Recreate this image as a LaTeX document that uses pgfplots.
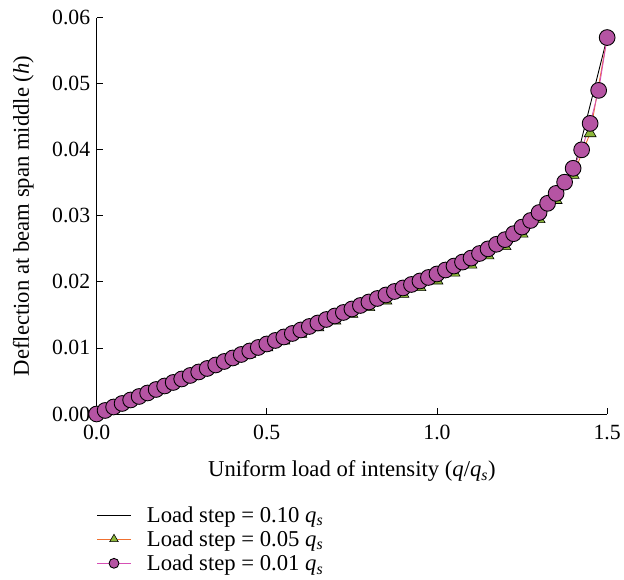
\documentclass[border=0pt]{standalone}
\usepackage{pgfplots}
\pgfplotsset{compat=1.18}
\usepackage{fontspec}
\setmainfont{Liberation Serif}
\definecolor{circfill}{RGB}{181,84,163}
\definecolor{circline}{RGB}{214,80,181}
\definecolor{trifill}{RGB}{141,184,58}
\definecolor{triline}{RGB}{240,112,48}
\newcommand{\qs}{\textit{q}\textsubscript{\textit{s}}}
\begin{document}
\begin{tikzpicture}
\begin{axis}[
  name=ax,
  scale only axis,
  width=518pt, height=402pt,
  xmin=0, xmax=1.5, ymin=0, ymax=0.06,
  axis x line=bottom, axis y line=left,
  axis line style={-, line width=0.8pt},
  tick align=inside,
  major tick length=6pt,
  tick style={line width=0.8pt, black},
  xtick={0,0.5,1.0,1.5},
  ytick={0,0.01,0.02,0.03,0.04,0.05,0.06},
  tick label style={font=\fontsize{22}{25}\selectfont},
  xticklabel style={yshift=-8pt, /pgf/number format/.cd, fixed, fixed zerofill, precision=1},
  yticklabel style={xshift=-3pt, /pgf/number format/.cd, fixed, fixed zerofill, precision=2},
  scaled y ticks=false,
  /pgf/number format/assume math mode=true,
  label style={font=\fontsize{23}{26}\selectfont},
  xlabel={Uniform load of intensity (\textit{q}/\qs)},
  ylabel={Deflection at beam span middle (\textit{h})},
  xlabel style={yshift=-14pt},
  ylabel style={yshift=12pt},
  clip=false,
  legend cell align=left,
  legend style={at={(0,-0.228)}, anchor=north west, draw=none, fill=none,
    font=\fontsize{23}{26}\selectfont, row sep=3pt, inner sep=0pt,
    nodes={inner xsep=16pt}},
  legend image code/.code={\draw[mark repeat=2,mark phase=2,#1] plot coordinates {(0pt,0pt) (17pt,0pt) (34pt,0pt)};},
]
\addplot[black, line width=0.9pt, mark=none] coordinates {
  (0,0) (0.1,0.00212) (0.2,0.00424) (0.3,0.00636) (0.4,0.00848) (0.5,0.0106)
  (0.6,0.01272) (0.7,0.01484) (0.8,0.01696) (0.9,0.01908) (1.0,0.0212)
  (1.1,0.0236) (1.2,0.0264) (1.3,0.0305) (1.4,0.0365) (1.5,0.057)
};
\addlegendentry{Load step = 0.10 \qs}
\addplot[triline, line width=0.9pt, mark=triangle*, mark size=7pt,
  mark options={fill=trifill, draw=black, line width=0.6pt},
  legend image post style={mark size=5pt}] coordinates {
  (0,0) (0.05,0.00101) (0.1,0.00202) (0.15,0.00303) (0.2,0.00404) (0.25,0.00505)
  (0.3,0.00606) (0.35,0.00707) (0.4,0.00808) (0.45,0.00909) (0.5,0.0101)
  (0.55,0.01111) (0.6,0.01212) (0.65,0.01313) (0.7,0.01414) (0.75,0.01515)
  (0.8,0.01616) (0.85,0.01717) (0.9,0.01818) (0.95,0.01919) (1.0,0.0202)
  (1.05,0.0214) (1.1,0.0226) (1.15,0.0240) (1.2,0.0254) (1.25,0.0273)
  (1.3,0.0295) (1.35,0.0324) (1.4,0.0362) (1.45,0.0425) (1.5,0.057)
};
\addlegendentry{Load step = 0.05 \qs}
\addplot[circline, line width=0.9pt, mark=*, mark size=8pt,
  mark options={fill=circfill, draw=black, line width=0.9pt},
  legend image post style={mark size=5pt}] coordinates {
  (0,0) (0.025,0.00053) (0.05,0.00106) (0.075,0.00159) (0.1,0.00212)
  (0.125,0.00265) (0.15,0.00318) (0.175,0.00371) (0.2,0.00424)
  (0.225,0.00477) (0.25,0.0053) (0.275,0.00583) (0.3,0.00636)
  (0.325,0.00689) (0.35,0.00742) (0.375,0.00795) (0.4,0.00848)
  (0.425,0.00901) (0.45,0.00954) (0.475,0.01007) (0.5,0.0106)
  (0.525,0.01113) (0.55,0.01166) (0.575,0.01219) (0.6,0.01272)
  (0.625,0.01325) (0.65,0.01378) (0.675,0.01431) (0.7,0.01484)
  (0.725,0.01537) (0.75,0.0159) (0.775,0.01643) (0.8,0.01696)
  (0.825,0.01749) (0.85,0.01802) (0.875,0.01855) (0.9,0.01908)
  (0.925,0.01961) (0.95,0.02014) (0.975,0.02067) (1.0,0.0212)
  (1.025,0.0218) (1.05,0.0224) (1.075,0.0230) (1.1,0.0236)
  (1.125,0.0243) (1.15,0.0250) (1.175,0.0257) (1.2,0.0264)
  (1.225,0.0273) (1.25,0.0283) (1.275,0.0293) (1.3,0.0305)
  (1.325,0.0319) (1.35,0.0334) (1.375,0.0351) (1.4,0.0372)
  (1.425,0.0400) (1.45,0.0440) (1.475,0.0490) (1.5,0.057)
};
\addlegendentry{Load step = 0.01 \qs}
\end{axis}
\path[use as bounding box] ([xshift=-98pt,yshift=-168pt]ax.south west) rectangle ([xshift=8pt,yshift=18pt]ax.north east);
\end{tikzpicture}
\end{document}
